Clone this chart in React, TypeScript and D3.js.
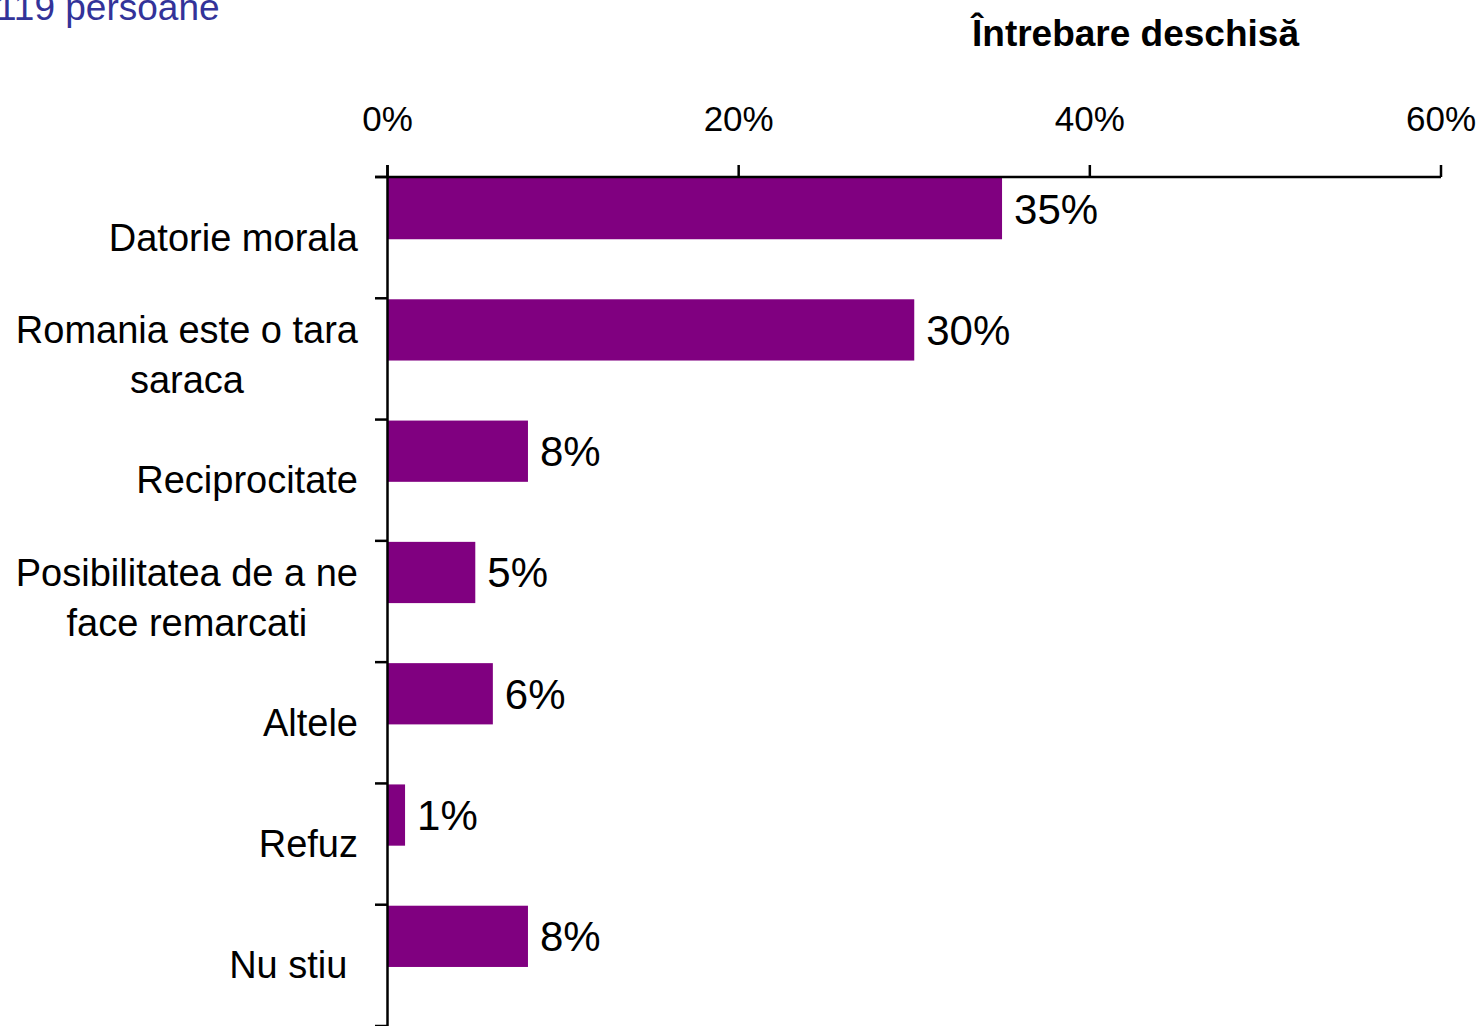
import React from "react";
import * as d3 from "d3";

const categories: string[][] = [
  ["Datorie morala"],
  ["Romania este o tara", "saraca"],
  ["Reciprocitate"],
  ["Posibilitatea de a ne", "face remarcati"],
  ["Altele"],
  ["Refuz"],
  ["Nu stiu "],
];
const values: number[] = [35, 30, 8, 5, 6, 1, 8];
const xTicks: number[] = [0, 20, 40, 60];
const title = "Întrebare deschisă";
const subtitle = "119 persoane";

const FONT = "Arial, 'Liberation Sans', Helvetica, sans-serif";

function measure(text: string, size: number): number {
  if (typeof document === "undefined") return text.length * size * 0.5;
  const c = document.createElement("canvas");
  const ctx = c.getContext("2d");
  if (!ctx) return text.length * size * 0.5;
  ctx.font = `${size}px "Liberation Sans", Arial, sans-serif`;
  return ctx.measureText(text).width;
}

export default function App() {
  const W = 1480;
  const H = 1026;
  const x0 = 387.5;
  const x1 = 1441;
  const yTop = 177;
  const yBot = 1026;

  const x = d3.scaleLinear().domain([0, 60]).range([x0, x1]);
  const y = d3
    .scaleBand<number>()
    .domain(d3.range(categories.length))
    .range([yTop, yBot])
    .paddingInner(0)
    .paddingOuter(0);
  const bw = y.bandwidth();
  const barH = bw * 0.505;

  const catSize = 38;
  const lineH = 50;
  const labelRight = 358;

  const boundaries = d3.range(categories.length + 1).map((i) => yTop + i * bw);

  return (
    <svg
      width={W}
      height={H}
      style={{ position: "absolute", left: 0, top: 0, background: "#fff" }}
      fontFamily={FONT}
    >
      <rect x={0} y={0} width={W} height={H} fill="#fff" />
      <text x={-4} y={20} fontSize={37} fill="#333399">
        {subtitle}
      </text>
      <text x={972} y={46} fontSize={37} fontWeight="bold" fill="#000">
        {title}
      </text>

      {/* bars */}
      {values.map((v, i) => (
        <rect
          key={"b" + i}
          x={x(0)}
          y={(y(i) as number) + 1}
          width={x(v) - x(0)}
          height={barH}
          fill="#800080"
        />
      ))}

      {/* value labels */}
      {values.map((v, i) => (
        <text
          key={"v" + i}
          x={x(v) + 12}
          y={(y(i) as number) + 1 + barH / 2 + 15}
          fontSize={42}
          fill="#000"
        >
          {v + "%"}
        </text>
      ))}

      {/* x axis */}
      <line x1={375} x2={x1} y1={yTop} y2={yTop} stroke="#000" strokeWidth={2.5} />
      {xTicks.map((t) => (
        <g key={"t" + t}>
          <line x1={x(t)} x2={x(t)} y1={yTop - 12} y2={yTop} stroke="#000" strokeWidth={2.5} />
          <text x={x(t)} y={131} fontSize={35} textAnchor="middle" fill="#000">
            {t + "%"}
          </text>
        </g>
      ))}

      {/* y axis */}
      <line x1={x0} x2={x0} y1={yTop - 12} y2={yBot} stroke="#000" strokeWidth={2.5} />
      {boundaries.map((b, i) => (
        <line key={"yt" + i} x1={375} x2={x0} y1={b} y2={b} stroke="#000" strokeWidth={2.5} />
      ))}

      {/* category labels */}
      {categories.map((lines, i) => {
        const w = Math.max(...lines.map((l) => measure(l, catSize)));
        const cx = labelRight - w / 2;
        const center = (y(i) as number) + bw / 2;
        const first = center - ((lines.length - 1) * lineH) / 2 + 13 - (lines.length > 1 ? 4 : 0);
        return (
          <text
            key={"c" + i}
            fontSize={catSize}
            textAnchor="middle"
            fill="#000"
            style={{ whiteSpace: "pre" }}
          >
            {lines.map((l, j) => (
              <tspan key={j} x={cx} y={first + j * lineH}>
                {l}
              </tspan>
            ))}
          </text>
        );
      })}
    </svg>
  );
}
